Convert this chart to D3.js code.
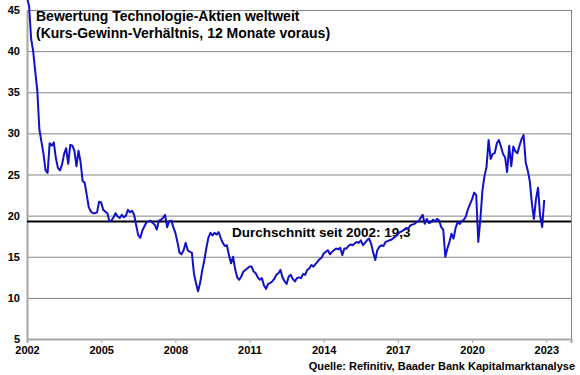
<!DOCTYPE html>
<html>
<head>
<meta charset="utf-8">
<script src="https://cdn.jsdelivr.net/npm/d3@7"></script>
<style>
  body { margin: 0; background: #fff; }
  text { font-family: Arial, "Liberation Sans", sans-serif; font-weight: bold; fill: #000; }
</style>
</head>
<body>
<div id="chart"></div>
<script>
// data
var startYear = 2002
// monthly KGV, Jan 2002 .. Dec 2022 (one row per year)
var kgv = [
    46.5, 45.5, 41.5, 40, 37.5, 35.2, 30.5, 29, 27.5, 25.5, 25.2, 28.8,
    28.5, 28.9, 27, 25.8, 25.5, 26.2, 27.5, 28.2, 26.3, 28.6, 28.5, 27.9,
    26, 27.9, 26.5, 24.2, 24, 22.5, 21, 20.5, 20.3, 20.3, 20.4, 21.7,
    21.6, 20.7, 20.5, 20.3, 19.3, 19.4, 19.8, 20.3, 19.9, 19.7, 20.1, 19.8,
    20, 20.7, 20.4, 20.6, 20.1, 18.8, 17.6, 17.3, 18.2, 18.7, 19.2, 19.3,
    19.4, 19.1, 18.9, 18.3, 19.4, 19.5, 19.7, 20.1, 18.6, 19.3, 19.4, 18.6,
    17.9, 16.8, 15.5, 15.3, 15.8, 16.7, 15.8, 15.6, 15.5, 13, 11.8, 10.8,
    11.8, 13.3, 14.5, 16, 17.3, 17.9, 17.6, 17.9, 17.7, 18, 17.3, 16.7,
    16.3, 16.4, 15.2, 14.2, 15, 13.5, 12.5, 12.2, 12.6, 13.2, 13.4, 13.6,
    13.8, 13.8, 13.2, 13, 12.5, 12.2, 12.4, 11.5, 11.1, 11.7, 11.8, 12,
    12.3, 12.8, 13, 13.4, 12.5, 12, 11.7, 12.6, 12.8, 12.3, 12, 12.4,
    12.5, 12.4, 12.9, 12.8, 13.4, 13.6, 14, 13.8, 14.1, 14.4, 14.7, 14.9,
    15.4, 15.6, 15.8, 15.3, 15.6, 15.8, 16, 15.9, 16.1, 15.2, 16, 16,
    16.3, 16.5, 16.4, 16.6, 16.8, 16.7, 17, 16.4, 16.7, 17, 17.2, 16.6,
    15.5, 14.6, 15.8, 16.2, 16.4, 16.3, 16.8, 16.9, 17, 17.1, 17.3, 17.5,
    17.8, 18, 18.1, 18.3, 18.5, 18.4, 18.8, 18.9, 19, 19.2, 19.3, 19.7,
    20.1, 19, 19.6, 19.1, 19.2, 19.5, 19.3, 19.6, 19.4, 18.6, 18.3, 15,
    16, 16.8, 17.8, 17.2, 18.5, 19.2, 19, 19.3, 19.5, 19.9, 20.8, 21.4,
    22, 22.8, 22.5, 16.8, 19.5, 23, 24.8, 25.9, 29.2, 26.9, 27.5, 27.6,
    28.8, 29.2, 28.4, 27.5, 27.1, 25.3, 28.5, 26, 28.4, 27.8, 27.6, 28.5,
    29.3, 29.8, 26.5, 25.5, 24.2, 21.5, 19.6, 22, 23.4, 20, 18.6, 21.9
]
var average = 19.3
var yTicks = [5, 10, 15, 20, 25, 30, 35, 40, 45]
var xTicks = [2002, 2005, 2008, 2011, 2014, 2017, 2020, 2023]

var width = 580,
    height = 375,
    plotLeft = 27,
    plotRight = 571,
    plotTop = 10,
    plotBottom = 339

var svg = d3.select('#chart')
    .append('svg')
    .attr('width', width)
    .attr('height', height)

// scales
var xscale = d3.scaleLinear()
    .domain([2002, 2024])
    .range([plotLeft, plotRight])

var yscale = d3.scaleLinear()
    .domain([5, 45])
    .range([plotBottom, plotTop])

var points = kgv.map((v, i) => [startYear + i / 12, v])

// gridlines
svg.append('g')
    .selectAll('line')
    .data(yTicks.slice(1))
    .enter()
    .append('line')
    .attr('x1', plotLeft)
    .attr('x2', plotRight)
    .attr('y1', d => yscale(d) + 0.5)
    .attr('y2', d => yscale(d) + 0.5)
    .attr('stroke', '#858585')
    .attr('stroke-width', 1)

// right border
svg.append('line')
    .attr('x1', plotRight + 0.5)
    .attr('x2', plotRight + 0.5)
    .attr('y1', plotTop)
    .attr('y2', plotBottom)
    .attr('stroke', '#858585')

// axes
var yaxis = d3.axisLeft(yscale)
    .tickValues(yTicks)
    .tickSize(0)
    .tickPadding(7)
var gy = svg.append('g')
    .attr('transform', 'translate(' + plotLeft + ',0)')
    .call(yaxis)
gy.select('.domain').attr('stroke', '#a6a6a6').attr('stroke-width', 2)
gy.selectAll('text').style('font-size', '11px').attr('fill', '#000')

var xaxis = d3.axisBottom(xscale)
    .tickValues(xTicks)
    .tickFormat(d3.format('d'))
    .tickSize(4)
    .tickPadding(3)
var gx = svg.append('g')
    .attr('transform', 'translate(0,' + plotBottom + ')')
    .call(xaxis)
gx.select('.domain').attr('stroke', '#a6a6a6').attr('stroke-width', 2)
gx.selectAll('line').attr('stroke', '#a6a6a6')
gx.selectAll('text').style('font-size', '11px').attr('fill', '#000')

// average line
svg.append('line')
    .attr('x1', plotLeft)
    .attr('x2', plotRight)
    .attr('y1', yscale(average))
    .attr('y2', yscale(average))
    .attr('stroke', '#000')
    .attr('stroke-width', 2)

svg.append('text')
    .attr('x', 232)
    .attr('y', yscale(average) + 16)
    .style('font-size', '13.5px')
    .text('Durchschnitt seit 2002: ' + d3.format('.1f')(average).replace('.', ','))

// line
var line = d3.line()
    .x(d => xscale(d[0]))
    .y(d => yscale(d[1]))

svg.append('path')
    .datum(points)
    .attr('d', line)
    .attr('fill', 'none')
    .attr('stroke', '#1111cc')
    .attr('stroke-width', 2)
    .attr('stroke-linejoin', 'round')

// titles
svg.append('text')
    .attr('x', 36)
    .attr('y', 21)
    .style('font-size', '14px')
    .text('Bewertung Technologie-Aktien weltweit')
svg.append('text')
    .attr('x', 36)
    .attr('y', 38)
    .style('font-size', '14px')
    .text('(Kurs-Gewinn-Verhältnis, 12 Monate voraus)')

svg.append('text')
    .attr('x', 575)
    .attr('y', 370)
    .attr('text-anchor', 'end')
    .style('font-size', '11px')
    .text('Quelle: Refinitiv, Baader Bank Kapitalmarktanalyse')
</script>
</body>
</html>
